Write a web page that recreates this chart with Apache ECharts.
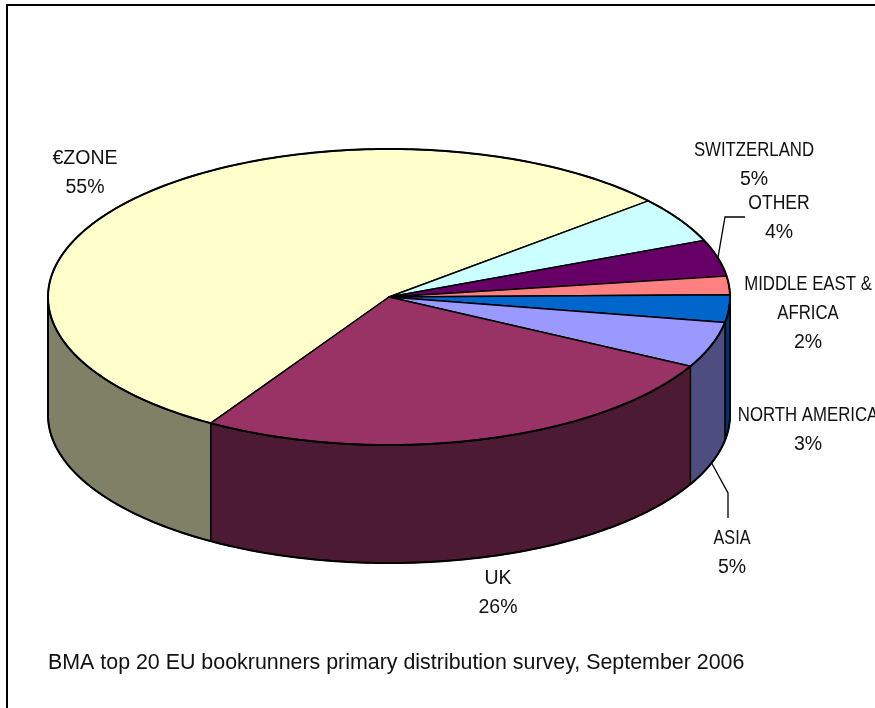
<!DOCTYPE html>
<html>
<head>
<meta charset="utf-8">
<script src="https://cdn.jsdelivr.net/npm/echarts@6/dist/echarts.min.js"></script>
<style>
  html, body { margin: 0; padding: 0; background: #fff; }
  #chart { width: 875px; height: 708px; }
</style>
</head>
<body>
<div id="chart"></div>
<script>
// Primary distribution by investor region (%)
const regions = ['€ZONE', 'SWITZERLAND', 'OTHER', 'MIDDLE EAST &\nAFRICA', 'NORTH AMERICA', 'ASIA', 'UK'];
const shares = [55, 5, 4, 2, 3, 5, 26];
const caption = 'BMA top 20 EU bookrunners primary distribution survey, September 2006';

// Slice colours: top face and darker rim
const topColors = ['#FFFFCC', '#CCFFFF', '#660066', '#FF8080', '#0066CC', '#9999FF', '#993366'];
const sideColors = ['#808066', '#668080', '#330033', '#804040', '#003366', '#4D4D80', '#4C1A33'];

// Label layout (block centres) and horizontal squeeze of the name lines
const labelCenters = [[85, 173.5], [754, 165], [779, 218], [808, 314], [808, 430], [732, 553], [498, 593]];
const nameSqueeze = [1, 0.86, 0.9, 0.86, 0.86, 0.83, 1];

// Tilted-disc geometry
const CX = 389, CY = 297, RX = 341, RY = 148, DEPTH = 118, START = 121.5;
const LABEL_FONT = '19.5px "Liberation Sans", Arial, sans-serif';
const LINE_H = 29;

const total = shares.reduce((s, v) => s + v, 0);
const angles = [START];
shares.forEach((v, i) => angles.push(angles[i] + 360 * v / total));

function pt(t, dy) {
  const r = t * Math.PI / 180;
  return [CX + RX * Math.cos(r), CY + RY * Math.sin(r) + dy];
}
function arc(a, b, dy) {
  const n = Math.max(2, Math.ceil(Math.abs(b - a)) + 1);
  const out = [];
  for (let k = 0; k < n; k++) out.push(pt(a + (b - a) * k / (n - 1), dy));
  return out;
}

function renderSlice(params, api) {
  const i = params.dataIndex;
  const value = api.value(0);
  const a = angles[i], b = angles[i + 1];
  const mid = (a + b) / 2;
  const children = [];

  // front rim: the part of the edge facing the viewer (sin t > 0)
  [[0, 180], [360, 540]].forEach(([lo, hi]) => {
    const s = Math.max(a, lo), e = Math.min(b, hi);
    if (e > s) {
      children.push({
        type: 'polygon', z2: 1,
        shape: { points: arc(s, e, 0).concat(arc(e, s, DEPTH)) },
        style: { fill: sideColors[i], stroke: '#000', lineWidth: 1.4, lineJoin: 'round' }
      });
    }
  });

  // top face
  children.push({
    type: 'polygon', z2: 2,
    shape: { points: [[CX, CY]].concat(arc(a, b, 0)) },
    style: { fill: topColors[i], stroke: '#000', lineWidth: 1.4, lineJoin: 'round' }
  });

  // outer silhouette of the disc
  if (i === 0) {
    children.push({
      type: 'polygon', z2: 5,
      shape: { points: arc(0, 360, 0) },
      style: { fill: null, stroke: '#000', lineWidth: 2 }
    });
    children.push({
      type: 'polyline', z2: 5,
      shape: { points: [pt(0, 0)].concat(arc(0, 180, DEPTH), [pt(180, 0)]) },
      style: { fill: null, stroke: '#000', lineWidth: 2 }
    });
  }

  // labels
  const [lx, ly] = labelCenters[i];
  const lines = regions[i].split('\n');
  const pct = Math.round(100 * value / total) + '%';
  const all = lines.concat([pct]);
  all.forEach((txt, k) => {
    children.push({
      type: 'text', z2: 20,
      x: lx, y: ly + (k - (all.length - 1) / 2) * LINE_H,
      scaleX: k < lines.length ? nameSqueeze[i] : 1,
      style: { text: txt, fill: '#111', font: LABEL_FONT, align: 'center', verticalAlign: 'middle' }
    });
  });

  // leader lines for the labels set away from their slices
  if (regions[i] === 'OTHER') {
    const p = pt(mid, 0);
    children.push({
      type: 'polyline', z2: 20,
      shape: { points: [p, [lx - 54, ly - 1], [lx - 34, ly - 1]] },
      style: { stroke: '#000', lineWidth: 1.3, fill: null }
    });
  }
  if (regions[i] === 'ASIA') {
    const p = pt(mid, DEPTH);
    children.push({
      type: 'polyline', z2: 20,
      shape: { points: [p, [lx - 4, ly - 60], [lx - 4, ly - 35]] },
      style: { stroke: '#000', lineWidth: 1.3, fill: null }
    });
  }

  return { type: 'group', children };
}

const chart = echarts.init(document.getElementById('chart'), null, { renderer: 'canvas' });
chart.setOption({
  animation: false,
  backgroundColor: '#fff',
  graphic: [
    {
      type: 'rect', z: 0, silent: true,
      shape: { x: 7, y: 5, width: 900, height: 740 },
      style: { fill: null, stroke: '#000', lineWidth: 2 }
    },
    {
      type: 'text', z: 10, silent: true,
      x: 48, y: 663,
      style: { text: caption, fill: '#111', font: '21.4px "Liberation Sans", Arial, sans-serif', align: 'left', verticalAlign: 'middle' }
    }
  ],
  series: [{
    type: 'custom',
    coordinateSystem: 'none',
    silent: true,
    renderItem: renderSlice,
    data: shares.map((v, i) => ({ name: regions[i], value: v }))
  }]
});
</script>
</body>
</html>
